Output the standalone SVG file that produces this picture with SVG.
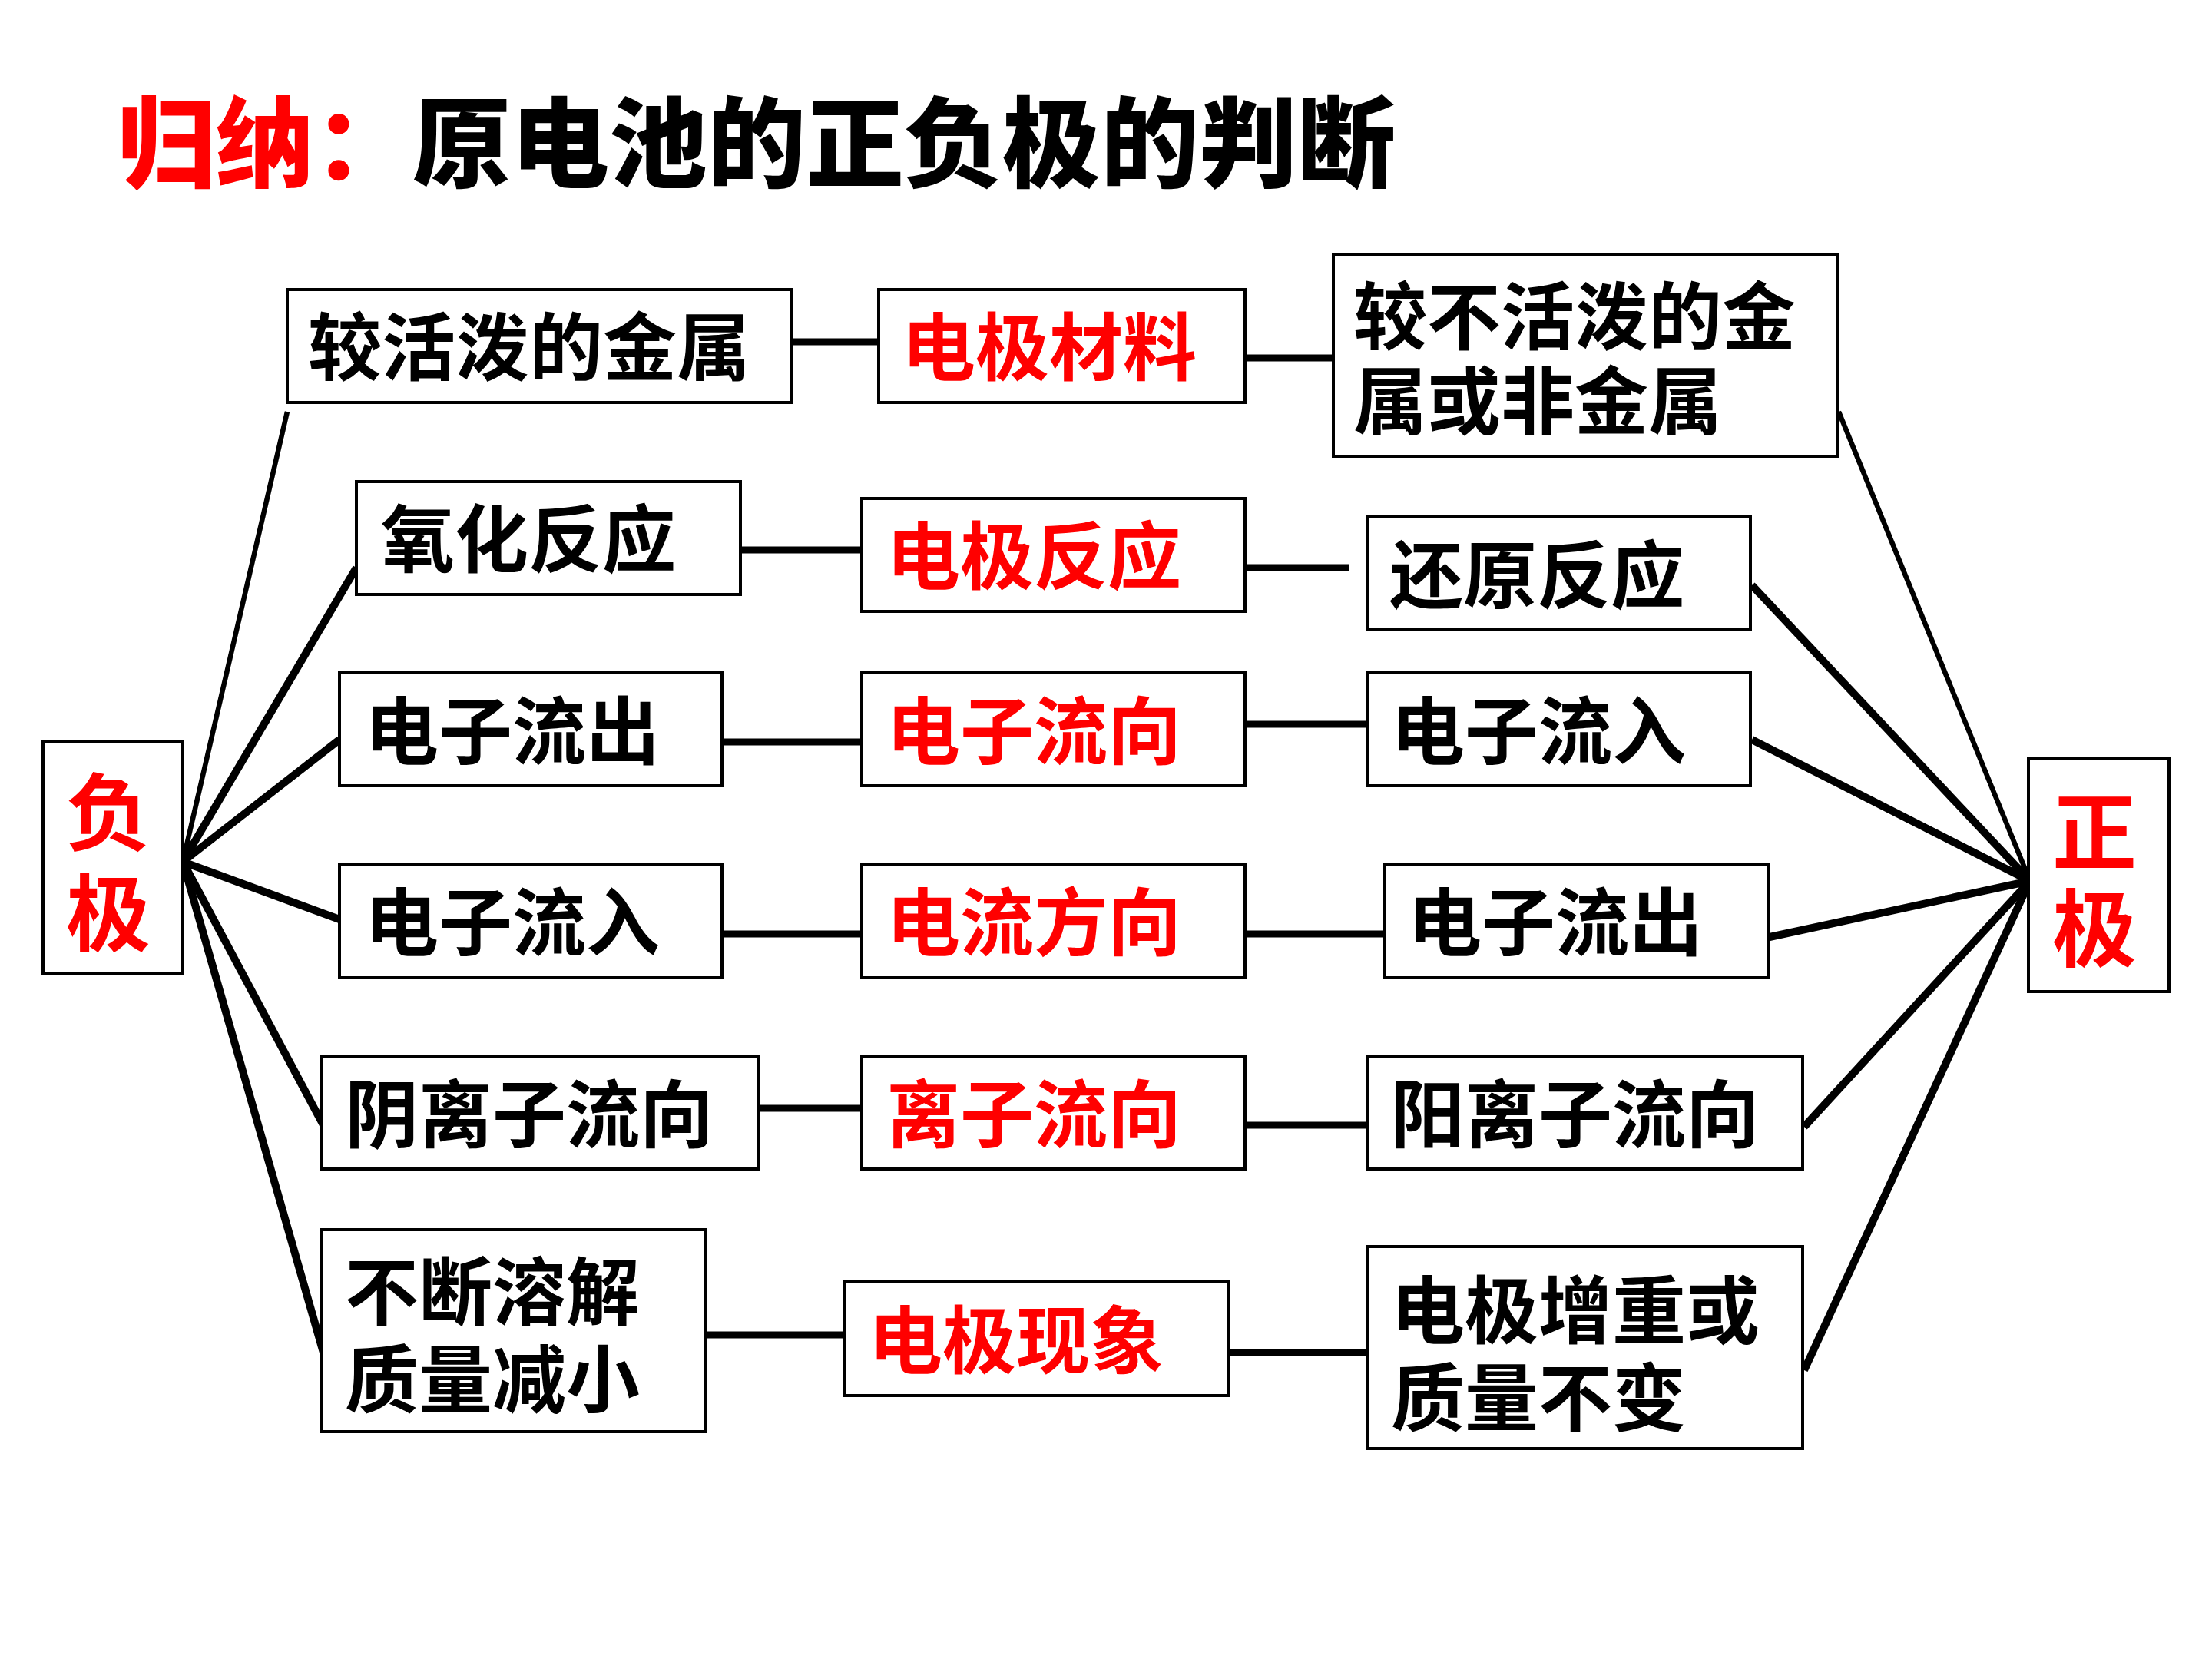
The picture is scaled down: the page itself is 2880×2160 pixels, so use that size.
<svg xmlns="http://www.w3.org/2000/svg" width="2880" height="2160" viewBox="0 0 2880 2160">
<style>
.box{fill:#fff;stroke:#000;stroke-width:4}
.t{font-family:"Noto Sans CJK SC","Noto Sans",sans-serif;font-weight:700;font-size:96px;fill:#000}
.r{fill:#FF0000}
.pole{font-family:"Noto Sans CJK SC","Noto Sans",sans-serif;font-weight:700;font-size:110px;fill:#FF0000;text-anchor:middle}
.title{font-family:"Noto Sans CJK SC","Noto Sans",sans-serif;font-weight:900;font-size:128px}
.thick{stroke:#000;stroke-width:10;fill:none}
.thin{stroke:#000;stroke-width:6.5;fill:none}
.h{stroke:#000;stroke-width:9;fill:none}
</style>
<rect width="2880" height="2160" fill="#fff"/>
<g id="title"><text class="title" x="153" y="234"><tspan fill="#FF0000">归纳：</tspan><tspan fill="#000">原电池的正负极的判断</tspan></text></g>
<g id="connectors">
<line class="thin" x1="238" y1="1122" x2="374" y2="536"/>
<line class="thick" x1="238" y1="1122" x2="464" y2="739"/>
<line class="thick" x1="238" y1="1122" x2="442" y2="963"/>
<line class="thick" x1="238" y1="1122" x2="442" y2="1197"/>
<line class="thick" x1="238" y1="1122" x2="421" y2="1465"/>
<line class="thick" x1="238" y1="1122" x2="421" y2="1761"/>
<line class="thin" x1="2643" y1="1147" x2="2394" y2="536"/>
<line class="thick" x1="2643" y1="1147" x2="2281" y2="762"/>
<line class="thick" x1="2643" y1="1147" x2="2281" y2="963"/>
<line class="thick" x1="2643" y1="1147" x2="2304" y2="1220"/>
<line class="thick" x1="2643" y1="1147" x2="2349" y2="1467"/>
<line class="thick" x1="2643" y1="1147" x2="2349" y2="1784"/>
<line class="h" x1="1032" y1="445" x2="1144" y2="445"/>
<line class="h" x1="1621" y1="466" x2="1736" y2="466"/>
<line class="h" x1="964" y1="716" x2="1122" y2="716"/>
<line class="h" x1="1621" y1="739" x2="1757" y2="739"/>
<line class="h" x1="940" y1="966" x2="1122" y2="966"/>
<line class="h" x1="1621" y1="943" x2="1780" y2="943"/>
<line class="h" x1="940" y1="1216" x2="1122" y2="1216"/>
<line class="h" x1="1621" y1="1216" x2="1802" y2="1216"/>
<line class="h" x1="987" y1="1443" x2="1122" y2="1443"/>
<line class="h" x1="1621" y1="1465" x2="1780" y2="1465"/>
<line class="h" x1="919" y1="1738" x2="1100" y2="1738"/>
<line class="h" x1="1599" y1="1761" x2="1780" y2="1761"/>
</g>
<g id="neg"><rect class="box" x="56" y="966" width="182" height="302"/><text class="pole" x="141" y="1099">负</text><text class="pole" x="141" y="1230">极</text></g>
<g id="pos"><rect class="box" x="2641" y="988" width="183" height="303"/><text class="pole" x="2727" y="1124">正</text><text class="pole" x="2727" y="1250">极</text></g>
<g id="l1"><rect class="box" x="374" y="377" width="657" height="147"/><text class="t" x="401" y="487">较活泼的金属</text></g>
<g id="l2"><rect class="box" x="464" y="627" width="500" height="147"/><text class="t" x="496" y="737">氧化反应</text></g>
<g id="l3"><rect class="box" x="442" y="876" width="498" height="147"/><text class="t" x="475" y="987">电子流出</text></g>
<g id="l4"><rect class="box" x="442" y="1125" width="498" height="148"/><text class="t" x="475" y="1236">电子流入</text></g>
<g id="l5"><rect class="box" x="419" y="1375" width="568" height="147"/><text class="t" x="449" y="1486">阴离子流向</text></g>
<g id="l6"><rect class="box" x="419" y="1601" width="500" height="263"/><text class="t" x="449" y="1717">不断溶解</text><text class="t" x="449" y="1831">质量减小</text></g>
<g id="m1"><rect class="box" x="1144" y="377" width="477" height="147"/><text class="t r" x="1174" y="487">电极材料</text></g>
<g id="m2"><rect class="box" x="1122" y="649" width="499" height="147"/><text class="t r" x="1154" y="759">电极反应</text></g>
<g id="m3"><rect class="box" x="1122" y="876" width="499" height="147"/><text class="t r" x="1154" y="987">电子流向</text></g>
<g id="m4"><rect class="box" x="1122" y="1125" width="499" height="148"/><text class="t r" x="1154" y="1236">电流方向</text></g>
<g id="m5"><rect class="box" x="1122" y="1375" width="499" height="147"/><text class="t r" x="1154" y="1486">离子流向</text></g>
<g id="m6"><rect class="box" x="1100" y="1668" width="499" height="149"/><text class="t r" x="1131" y="1780">电极现象</text></g>
<g id="r1"><rect class="box" x="1736" y="331" width="656" height="263"/><text class="t" x="1762" y="447">较不活泼的金</text><text class="t" x="1762" y="557">属或非金属</text></g>
<g id="r2"><rect class="box" x="1780" y="672" width="499" height="147"/><text class="t" x="1809" y="784">还原反应</text></g>
<g id="r3"><rect class="box" x="1780" y="876" width="499" height="147"/><text class="t" x="1811" y="987">电子流入</text></g>
<g id="r4"><rect class="box" x="1803" y="1125" width="499" height="148"/><text class="t" x="1833" y="1236">电子流出</text></g>
<g id="r5"><rect class="box" x="1780" y="1375" width="567" height="147"/><text class="t" x="1811" y="1486">阳离子流向</text></g>
<g id="r6"><rect class="box" x="1780" y="1623" width="567" height="263"/><text class="t" x="1811" y="1741">电极增重或</text><text class="t" x="1811" y="1855">质量不变</text></g>
</svg>
